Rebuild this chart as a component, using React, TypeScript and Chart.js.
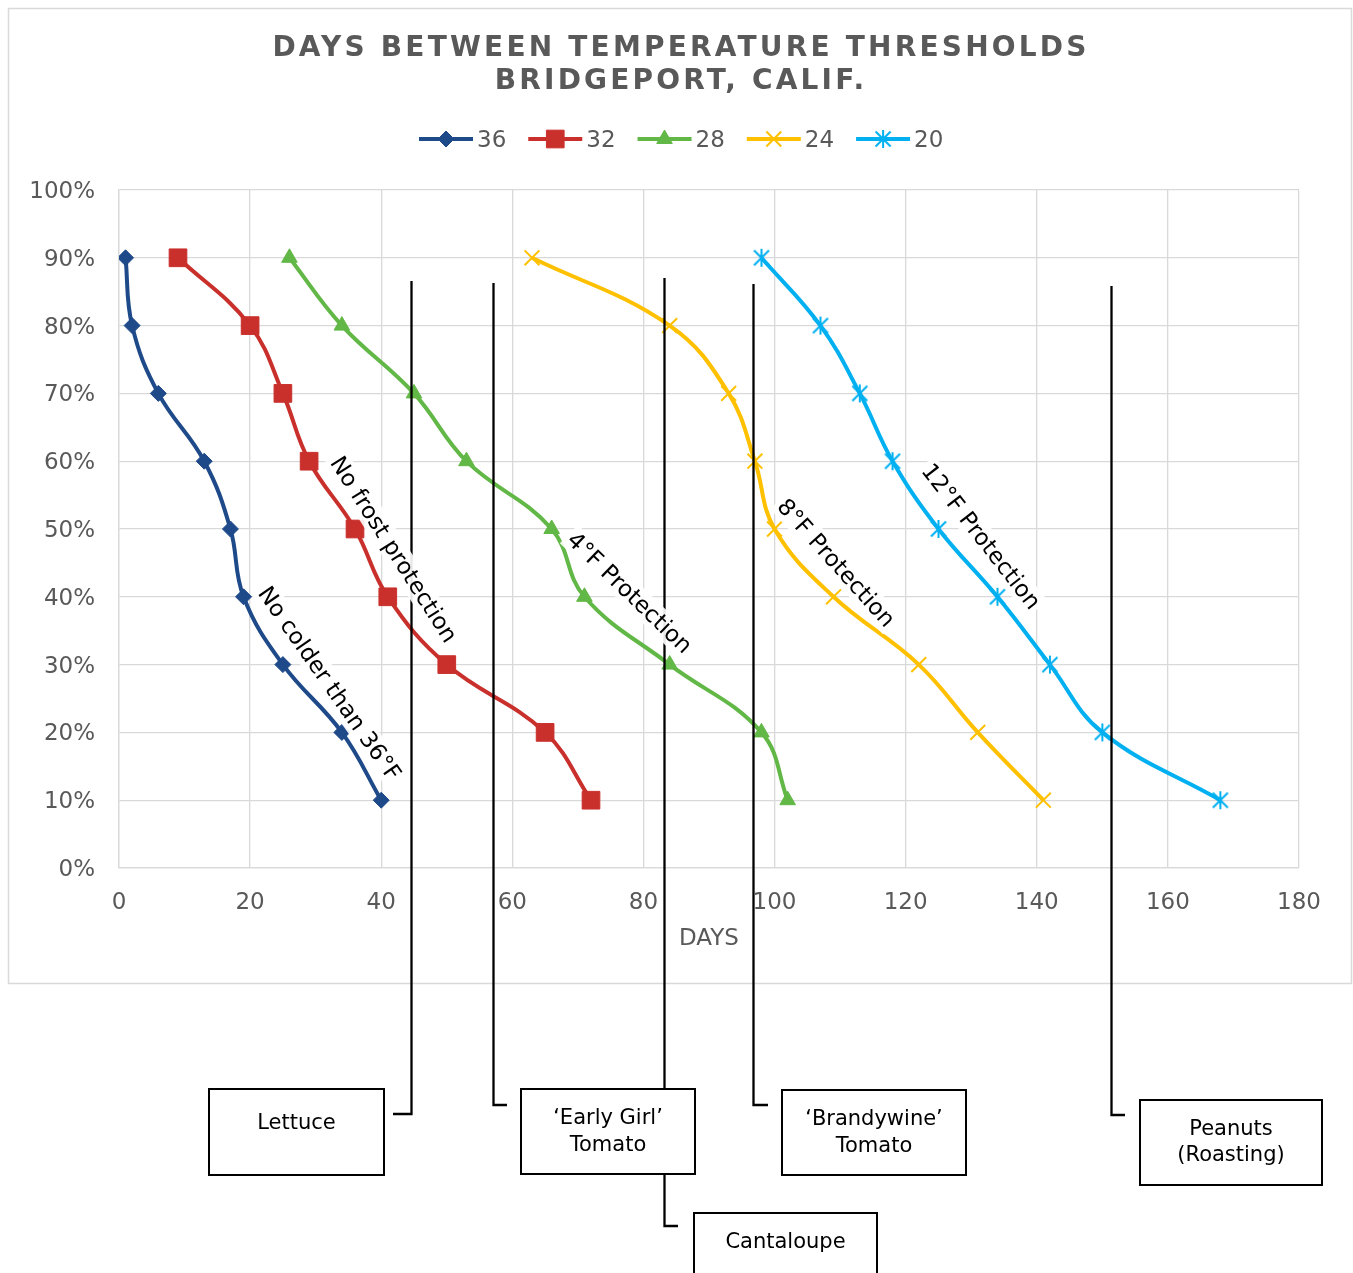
import React, { useEffect, useRef } from 'react';
import Chart from 'chart.js/auto';
import { drawPoint } from 'chart.js/helpers';

const FONT = '"DejaVu Sans", Verdana, sans-serif';
const GRAY = '#595959';

const TITLE_LINES = ['DAYS BETWEEN TEMPERATURE THRESHOLDS', 'BRIDGEPORT, CALIF.'];
const X_TITLE = 'DAYS';
const SERIES_NAMES = ['36', '32', '28', '24', '20'];
const PERCENTILES = [90, 80, 70, 60, 50, 40, 30, 20, 10];
const DAYS_36 = [1, 2, 6, 13, 17, 19, 25, 34, 40];
const DAYS_32 = [9, 20, 25, 29, 36, 41, 50, 65, 72];
const DAYS_28 = [26, 34, 45, 53, 66, 71, 84, 98, 102];
const DAYS_24 = [63, 84, 93, 97, 100, 109, 122, 131, 141];
const DAYS_20 = [98, 107, 113, 118, 125, 134, 142, 150, 168];
const SERIES_COLORS = ['#1F4A8A', '#C9302C', '#62B846', '#FFC000', '#00B0F0'];

const X_MIN = 0;
const X_MAX = 180;
const X_STEP = 20;
const Y_MIN = 0;
const Y_MAX = 100;
const Y_STEP = 10;

const PROTECTION_LABELS = ['No colder than 36°F', 'No frost protection', '4°F Protection', '8°F Protection', '12°F Protection'];
const PROTECTION_X = [32.1, 41.9, 77.9, 109.4, 131.5];
const PROTECTION_Y = [27.2, 47.0, 40.6, 45.0, 48.9];
const PROTECTION_ANGLE = [55, 57.5, 44, 48, 52];

const CROP_NAMES = [['Lettuce'], ['‘Early Girl’', 'Tomato'], ['Cantaloupe'], ['‘Brandywine’', 'Tomato'], ['Peanuts', '(Roasting)']];
const CROP_DAYS = [44.5, 57.1, 83.1, 96.7, 151.3];

// layout of the crop call-out boxes (pixels)
const CROP_LAYOUT = [
  { top: 281, bend: 1114, tickTo: 393, box: [209, 1089, 384, 1175], text: [1122] },
  { top: 283, bend: 1105, tickTo: 507, box: [521, 1089, 695, 1174], text: [1117, 1144] },
  { top: 278, bend: 1226, tickTo: 678, box: [694, 1213, 877, 1300], text: [1241] },
  { top: 284, bend: 1105, tickTo: 768, box: [782, 1090, 966, 1175], text: [1118, 1145] },
  { top: 286, bend: 1115, tickTo: 1125, box: [1140, 1100, 1322, 1185], text: [1128, 1154] },
];

function makeAsterisk(color: string) {
  const c = document.createElement('canvas');
  c.width = 20;
  c.height = 20;
  const g = c.getContext('2d')!;
  g.strokeStyle = color;
  g.lineWidth = 2;
  g.beginPath();
  g.moveTo(2.5, 2.5); g.lineTo(17.5, 17.5);
  g.moveTo(17.5, 2.5); g.lineTo(2.5, 17.5);
  g.moveTo(10, 1); g.lineTo(10, 19);
  g.stroke();
  return c;
}

export default function App() {
  const ref = useRef<HTMLCanvasElement>(null);

  useEffect(() => {
    const canvas = ref.current!;
    const asterisk = makeAsterisk(SERIES_COLORS[4]);
    const seriesDays = [DAYS_36, DAYS_32, DAYS_28, DAYS_24, DAYS_20];
    const markers: any[] = [
      { style: 'rectRot', radius: 8, bw: 1 },
      { style: 'rect', radius: 12.5, bw: 1 },
      { style: 'triangle', radius: 9, bw: 1 },
      { style: 'crossRot', radius: 10.5, bw: 2 },
      { style: asterisk, radius: 10, bw: 2 },
    ];

    const datasets = SERIES_NAMES.map((name, i) => ({
      label: name,
      data: seriesDays[i].map((d, j) => ({ x: d, y: PERCENTILES[j] })),
      showLine: true,
      borderColor: SERIES_COLORS[i],
      backgroundColor: SERIES_COLORS[i],
      borderWidth: 4,
      tension: 0.4,
      pointStyle: markers[i].style,
      pointRadius: markers[i].radius,
      pointBorderWidth: markers[i].bw,
      pointBackgroundColor: SERIES_COLORS[i],
      pointBorderColor: SERIES_COLORS[i],
    }));

    const decor = {
      id: 'decor',
      beforeDraw(chart: any) {
        const ctx = chart.ctx;
        ctx.save();
        ctx.fillStyle = '#ffffff';
        ctx.fillRect(0, 0, chart.width, chart.height);
        ctx.strokeStyle = '#D9D9D9';
        ctx.lineWidth = 1.5;
        ctx.strokeRect(8.5, 8.5, 1343, 975);
        // title
        ctx.fillStyle = GRAY;
        ctx.font = `bold 28px ${FONT}`;
        ctx.textAlign = 'center';
        ctx.textBaseline = 'middle';
        (ctx as any).letterSpacing = '3.2px';
        ctx.fillText(TITLE_LINES[0], 681, 49);
        ctx.fillText(TITLE_LINES[1], 681, 82);
        (ctx as any).letterSpacing = '0px';
        // legend
        ctx.font = `23px ${FONT}`;
        ctx.textAlign = 'left';
        let x = 419;
        const ly = 139;
        SERIES_NAMES.forEach((name, i) => {
          ctx.strokeStyle = SERIES_COLORS[i];
          ctx.lineWidth = 4;
          ctx.beginPath();
          ctx.moveTo(x, ly);
          ctx.lineTo(x + 54, ly);
          ctx.stroke();
          ctx.fillStyle = SERIES_COLORS[i];
          ctx.lineWidth = markers[i].bw;
          drawPoint(ctx, { pointStyle: markers[i].style, radius: markers[i].radius, borderWidth: markers[i].bw, rotation: 0 } as any, x + 27, ly);
          ctx.fillStyle = GRAY;
          ctx.fillText(name, x + 58, ly + 2);
          x += 58 + ctx.measureText(name).width + 22;
        });
        ctx.restore();
      },
      afterDatasetsDraw(chart: any) {
        const ctx = chart.ctx;
        const xs = chart.scales.x;
        const ys = chart.scales.y;
        ctx.save();
        // connector lines
        ctx.strokeStyle = '#000000';
        ctx.lineWidth = 2.3;
        CROP_DAYS.forEach((d, i) => {
          const L = CROP_LAYOUT[i];
          const px = Math.round(xs.getPixelForValue(d)) + 0.5;
          ctx.beginPath();
          ctx.moveTo(px, L.top);
          ctx.lineTo(px, L.bend);
          ctx.lineTo(L.tickTo, L.bend);
          ctx.stroke();
        });
        // protection labels
        ctx.font = `23px ${FONT}`;
        ctx.textAlign = 'center';
        ctx.textBaseline = 'middle';
        PROTECTION_LABELS.forEach((t, i) => {
          const px = xs.getPixelForValue(PROTECTION_X[i]);
          const py = ys.getPixelForValue(PROTECTION_Y[i]);
          const w = ctx.measureText(t).width;
          ctx.save();
          ctx.translate(px, py);
          ctx.rotate((PROTECTION_ANGLE[i] * Math.PI) / 180);
          ctx.fillStyle = 'rgba(255,255,255,0.9)';
          ctx.fillRect(-w / 2 - 3, -13, w + 6, 26);
          ctx.fillStyle = '#000000';
          ctx.fillText(t, 0, 1.5);
          ctx.restore();
        });
        // crop boxes
        ctx.font = `21px ${FONT}`;
        CROP_NAMES.forEach((lines, i) => {
          const L = CROP_LAYOUT[i];
          const [x0, y0, x1, y1] = L.box;
          ctx.fillStyle = '#ffffff';
          ctx.fillRect(x0, y0, x1 - x0, y1 - y0);
          ctx.strokeStyle = '#000000';
          ctx.lineWidth = 2;
          ctx.strokeRect(x0, y0, x1 - x0, y1 - y0);
          ctx.fillStyle = '#000000';
          lines.forEach((ln, k) => {
            ctx.fillText(ln, (x0 + x1) / 2, L.text[k] + 1.5);
          });
        });
        ctx.restore();
      },
    };

    const chart = new Chart(canvas, {
      type: 'scatter',
      data: { datasets },
      options: {
        animation: false,
        responsive: false,
        devicePixelRatio: 1,
        layout: { padding: { left: 0, top: 190, right: 54, bottom: 315 } },
        plugins: {
          legend: { display: false },
          title: { display: false },
          tooltip: { enabled: false },
        },
        scales: {
          x: {
            type: 'linear',
            min: X_MIN,
            max: X_MAX,
            ticks: { stepSize: X_STEP, padding: 21, color: GRAY, font: { family: FONT, size: 23 } },
            grid: { color: '#D9D9D9', lineWidth: 1.33, drawTicks: false },
            border: { color: '#D9D9D9', width: 1.33 },
            title: { display: true, text: X_TITLE, color: GRAY, font: { family: FONT, size: 23 }, padding: { top: 0, bottom: 5 } },
            afterFit: (s: any) => { s.height = 90; },
          },
          y: {
            type: 'linear',
            min: Y_MIN,
            max: Y_MAX,
            ticks: { stepSize: Y_STEP, padding: 24, labelOffset: 2, color: GRAY, font: { family: FONT, size: 23 }, callback: (v: any) => `${v}%` },
            grid: { color: '#D9D9D9', lineWidth: 1.33, drawTicks: false },
            border: { color: '#D9D9D9', width: 1.33 },
            afterFit: (s: any) => { s.width = 119; },
          },
        },
      },
      plugins: [decor],
    } as any);

    return () => chart.destroy();
  }, []);

  return (
    <div style={{ position: 'absolute', left: 0, top: 0, width: 1353, height: 1273, overflow: 'hidden' }}>
      <canvas ref={ref} width={1353} height={1273} style={{ display: 'block', width: 1353, height: 1273 }} />
    </div>
  );
}
